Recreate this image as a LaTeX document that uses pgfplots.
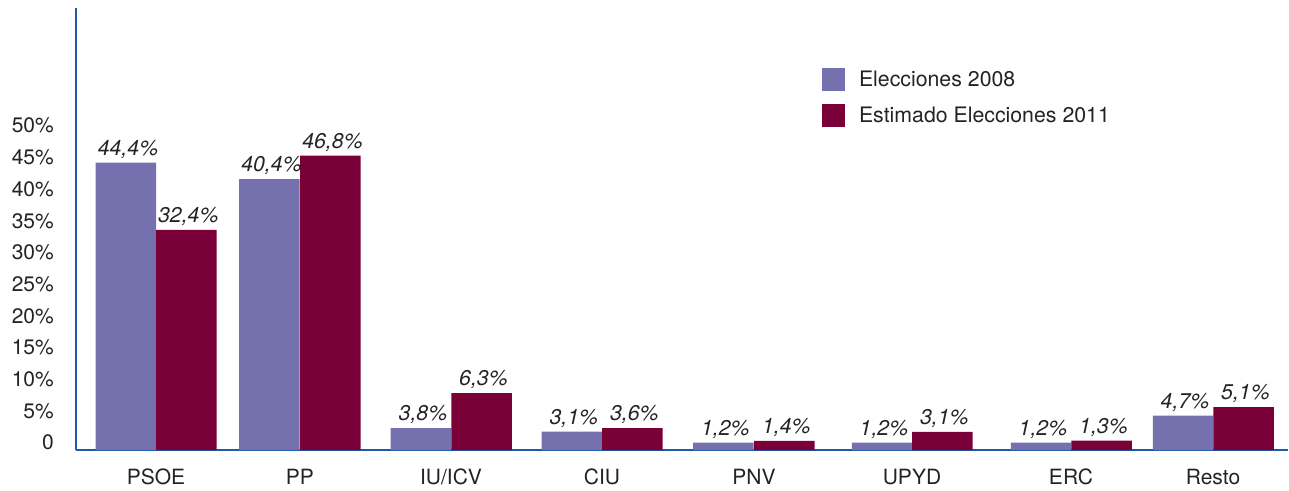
\documentclass[border=0pt]{standalone}
\usepackage{fontspec}
\setmainfont{TeX Gyre Heros}
\usepackage{pgfplots}
\pgfplotsset{compat=1.18}
\definecolor{c08}{RGB}{117,112,174}
\definecolor{c11}{RGB}{122,0,56}
\definecolor{axb}{RGB}{30,90,170}
\definecolor{txt}{RGB}{35,35,35}
\newcommand\fs{\fontsize{21bp}{25bp}\selectfont}
\newcommand\fl{\fontsize{21.3bp}{25bp}\selectfont}
\pgfplotsset{sqlegend/.style={legend image code/.code={\fill[##1,draw=none] (0bp,-11.5bp) rectangle (23bp,11.5bp); \path (37bp,0bp);}}}
\begin{document}
\begin{tikzpicture}
\useasboundingbox (-76bp,-41bp) rectangle (1213bp,450bp);
\begin{axis}[
  anchor=south west, at={(0,0)},
  x=1bp, y=6.34bp,
  xmin=0, xmax=1212, ymin=0, ymax=69.7,
  enlargelimits=false, clip=false,
  ybar, bar width=60.5,
  axis x line=bottom, axis y line=left,
  axis line style={draw=axb, line width=1.5bp, -},
  major tick length=0pt,
  xtick={80,224,375,526,678,836,995,1137},
  xticklabels={PSOE,PP,IU/ICV,CIU,PNV,UPYD,ERC,Resto},
  ytick={0,5,...,50},
  yticklabels={0,5\%,10\%,15\%,20\%,25\%,30\%,35\%,40\%,45\%,50\%},
  xticklabel style={font=\fs, text=txt, anchor=north, inner sep=0pt, yshift=-19bp},
  yticklabel style={font=\fs, text=txt, anchor=east, inner sep=0pt, xshift=-22bp, yshift=7.3bp},
  nodes near coords,
  point meta=explicit symbolic,
  every node near coord/.append style={font=\fl\itshape, text=txt, inner sep=0pt, yshift=4bp, xshift=2bp},
  legend style={at={(axis cs:746,60.25)}, anchor=north west, draw=none, fill=none,
    inner sep=0pt, outer sep=0pt, font=\fl, text=txt, row sep=13bp,
    nodes={inner sep=0pt}},
  legend cell align=left,
]
\addplot[fill=c08, draw=none, bar shift=0pt, sqlegend] coordinates {
  (50,45.32) [44,4\%]
  (193.5,42.74) [40,4\%]
  (345,3.47) [3,8\%]
  (495.8,2.89) [3,1\%]
  (647.3,1.15) [1,2\%]
  (806,1.15) [1,2\%]
  (965,1.15) [1,2\%]
  (1107,5.41) [4,7\%]
};
\addlegendentry{Elecciones 2008}
\addplot[fill=c11, draw=none, bar shift=0pt, sqlegend] coordinates {
  (110.3,34.70) [32,4\%]
  (254.5,46.42) [46,8\%]
  (405.5,8.99) [6,3\%]
  (556.3,3.47) [3,6\%]
  (708.3,1.42) [1,4\%]
  (866.3,2.84) [3,1\%]
  (1025.5,1.47) [1,3\%]
  (1167.5,6.78) [5,1\%]
};
\addlegendentry{Estimado Elecciones 2011}
\end{axis}
\end{tikzpicture}
\end{document}
